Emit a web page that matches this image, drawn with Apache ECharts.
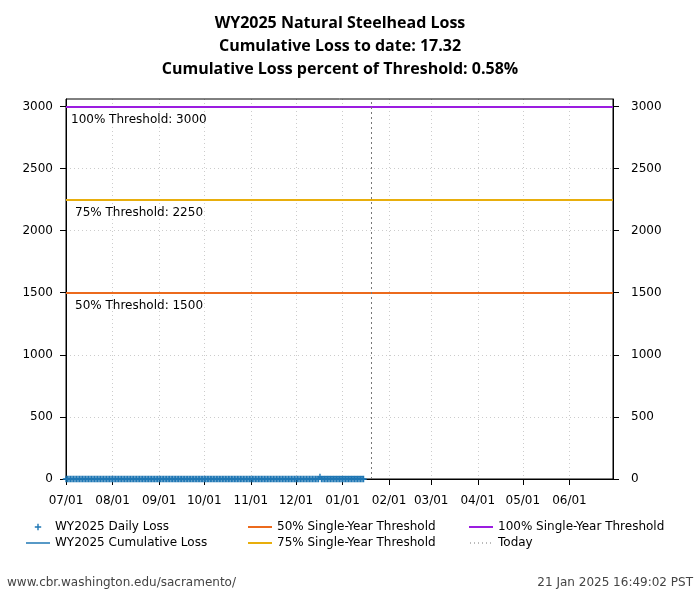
<!DOCTYPE html>
<html>
<head>
<meta charset="utf-8">
<script src="https://cdn.jsdelivr.net/npm/echarts@6/dist/echarts.min.js"></script>
<style>html,body{margin:0;padding:0;background:#fff;}#c{width:700px;height:600px;}</style>
</head>
<body>
<div id="c"></div>
<script>
// ---- data ----
var titleLines = ['WY2025 Natural Steelhead Loss', 'Cumulative Loss to date: 17.32', 'Cumulative Loss percent of Threshold: 0.58%'];
var startDate = '2024-07-01';
var endDate = '2025-06-30';
var todayDate = '2025-01-20';
var dailyJul = [0,0,0,0,0,0,0,0,0,0,0,0,0,0,0,0,0,0,0,0,0,0,0,0,0,0,0,0,0,0,0];
var dailyAug = [0,0,0,0,0,0,0,0,0,0,0,0,0,0,0,0,0,0,0,0,0,0,0,0,0,0,0,0,0,0,0];
var dailySep = [0,0,0,0,0,0,0,0,0,0,0,0,0,0,0,0,0,0,0,0,0,0,0,0,0,0,0,0,0,0];
var dailyOct = [0,0,0,0,0,0,0,0,0,0,0,0,0,0,0,0,0,0,0,0,0,0,0,0,0,0,0,0,0,0,0];
var dailyNov = [0,0,0,0,0,0,0,0,0,0,0,0,0,0,0,0,0,0,0,0,0,0,0,0,0,0,0,0,0,0];
var dailyDec = [0,0,0,0,0,0,0,0,0,0,0,0,0,0,0,0,17.32,0,0,0,0,0,0,0,0,0,0,0,0,0,0];
var dailyJan = [0,0,0,0,0,0,0,0,0,0,0,0,0,0,0];
var thresholdNames = ['50% Single-Year Threshold', '75% Single-Year Threshold', '100% Single-Year Threshold'];
var thresholdValues = [1500, 2250, 3000];
var thresholdLabels = ['50% Threshold: 1500', '75% Threshold: 2250', '100% Threshold: 3000'];
var footerLeft = 'www.cbr.washington.edu/sacramento/';
var footerRight = '21 Jan 2025 16:49:02 PST';

// ---- build ----
function pad(n){return (n<10?'0':'')+n;}
var categories = [];
(function(){
  var d = new Date(startDate + 'T00:00:00Z');
  var e = new Date(endDate + 'T00:00:00Z');
  while (d <= e) {
    categories.push(d.getUTCFullYear() + '-' + pad(d.getUTCMonth()+1) + '-' + pad(d.getUTCDate()));
    d = new Date(d.getTime() + 86400000);
  }
})();
var daily = [].concat(dailyJul, dailyAug, dailySep, dailyOct, dailyNov, dailyDec, dailyJan);
var cumulative = [];
var s = 0;
for (var i = 0; i < daily.length; i++) { s += daily[i]; cumulative.push(+s.toFixed(2)); }

var blue = '#1f77b4';
var thrColors = ['#ec6a1c', '#e8ae0c', '#9b1de0'];
var isMonthStart = function(idx, val){ return String(val).slice(8) === '01'; };
var font = 'DejaVu Sans';

var box = 'M0,0M24,12';
var plusIcon = 'path://' + box + 'M8.8,5.3h6.4v1.4h-6.4zM11.3,2.8h1.4v6.4h-1.4z';
var lineIcon = 'path://' + box + 'M0,5.25h24v1.5h-24z';
var thickIcon = 'path://' + box + 'M0,5h24v2h-24z';
var dotIcon = 'path://' + box + 'M1,5.5h1v1h-1zM5,5.5h1v1h-1zM9,5.5h1v1h-1zM13,5.5h1v1h-1zM17,5.5h1v1h-1zM21,5.5h1v1h-1z';

var series = [
  { name: 'WY2025 Daily Loss', type: 'line', data: daily, lineStyle: {width: 0, opacity: 0},
    symbol: plusIcon, symbolSize: [24, 12], showSymbol: true, showAllSymbol: true,
    itemStyle: {color: blue}, z: 5, silent: true, animation: false },
  { name: 'WY2025 Cumulative Loss', type: 'line', data: cumulative, symbol: 'none',
    lineStyle: {width: 1.5, color: blue}, itemStyle: {color: blue}, z: 6, animation: false }
];
for (var t = 0; t < thresholdValues.length; t++) {
  series.push({
    name: thresholdNames[t], type: 'line', data: [], itemStyle: {color: thrColors[t]}, lineStyle: {color: thrColors[t]},
    markLine: {
      symbol: 'none', silent: true, animation: false,
      lineStyle: {color: thrColors[t], width: 2, type: 'solid'},
      label: { show: true, position: 'insideStartBottom', formatter: thresholdLabels[t],
        color: '#000', fontFamily: font, fontSize: 12, distance: [t === 2 ? 5 : 9, 7] },
      data: [{ yAxis: thresholdValues[t] }]
    }
  });
}
series.push({
  name: 'Today', type: 'line', data: [], itemStyle: {color: '#777'}, lineStyle: {color: '#777'},
  markLine: { symbol: 'none', silent: true, animation: false, label: {show: false},
    lineStyle: {color: '#777', width: 1, type: [2, 3]},
    data: [{ xAxis: todayDate }] }
});

function legend(left, items, icons) {
  return {
    left: left, top: 521, orient: 'vertical', itemGap: 4, itemWidth: 24, itemHeight: 12, padding: 0,
    selectedMode: false,
    textStyle: {fontFamily: font, fontSize: 12, color: '#000'},
    data: items.map(function(n, k){ return {name: n, icon: icons[k]}; })
  };
}
var gridColors = ['#ccc','#ccc','#ccc','#ccc','#ccc','#ccc','#ccc','rgba(0,0,0,0)'];
var plainNum = function(v){ return String(v); };

var chart = echarts.init(document.getElementById('c'), null, {renderer: 'canvas'});
chart.setOption({
  animation: false,
  backgroundColor: '#fff',
  legend: [
    legend(26, ['WY2025 Daily Loss', 'WY2025 Cumulative Loss'], [plusIcon, lineIcon]),
    legend(248, [thresholdNames[0], thresholdNames[1]], [thickIcon, thickIcon]),
    legend(469, [thresholdNames[2], 'Today'], [thickIcon, dotIcon])
  ],
  grid: { left: 66, right: 87, top: 99, bottom: 121, show: true, borderColor: '#000', borderWidth: 1, backgroundColor: 'transparent', z: 3 },
  xAxis: {
    type: 'category', data: categories, boundaryGap: false,
    axisLine: {lineStyle: {color: '#000', width: 1}},
    axisTick: {show: true, interval: isMonthStart, length: 6, lineStyle: {color: '#000'}},
    axisLabel: {interval: isMonthStart, margin: 16, fontFamily: font, fontSize: 12, color: '#000',
      formatter: function(v){ return v.slice(5, 7) + '/' + v.slice(8); }},
    splitLine: {show: true, interval: isMonthStart, lineStyle: {color: '#ccc', type: [1, 3], width: 1}}
  },
  yAxis: [
    { type: 'value', min: 0, max: 3060, interval: 500, position: 'left',
      axisLine: {show: true, lineStyle: {color: '#000'}},
      axisTick: {show: true, length: 6, lineStyle: {color: '#000'}},
      axisLabel: {showMaxLabel: false, margin: 13, fontFamily: font, fontSize: 12, color: '#000', formatter: plainNum},
      splitLine: {show: true, lineStyle: {color: gridColors, type: [1, 3], width: 1}} },
    { type: 'value', min: 0, max: 3060, interval: 500, position: 'right',
      axisLine: {show: true, lineStyle: {color: '#000'}},
      axisTick: {show: true, length: 6, lineStyle: {color: '#000'}},
      axisLabel: {showMaxLabel: false, margin: 18, fontFamily: font, fontSize: 12, color: '#000', formatter: plainNum},
      splitLine: {show: false} }
  ],
  series: series,
  graphic: [
    { type: 'text', x: 340, y: 23, style: {text: titleLines[0], textAlign: 'center', textVerticalAlign: 'middle',
      fontFamily: 'Open Sans', fontWeight: 'bold', fontSize: 16, fill: '#000'} },
    { type: 'text', x: 340, y: 46, style: {text: titleLines[1], textAlign: 'center', textVerticalAlign: 'middle',
      fontFamily: 'Open Sans', fontWeight: 'bold', fontSize: 16, fill: '#000'} },
    { type: 'text', x: 340, y: 69, style: {text: titleLines[2], textAlign: 'center', textVerticalAlign: 'middle',
      fontFamily: 'Open Sans', fontWeight: 'bold', fontSize: 16, fill: '#000'} },
    { type: 'text', left: 7, top: 577, style: {text: footerLeft, fontFamily: font, fontSize: 12, fill: '#444'} },
    { type: 'text', right: 7, top: 577, style: {text: footerRight, fontFamily: font, fontSize: 12, fill: '#444'} }
  ]
});
</script>
</body>
</html>
